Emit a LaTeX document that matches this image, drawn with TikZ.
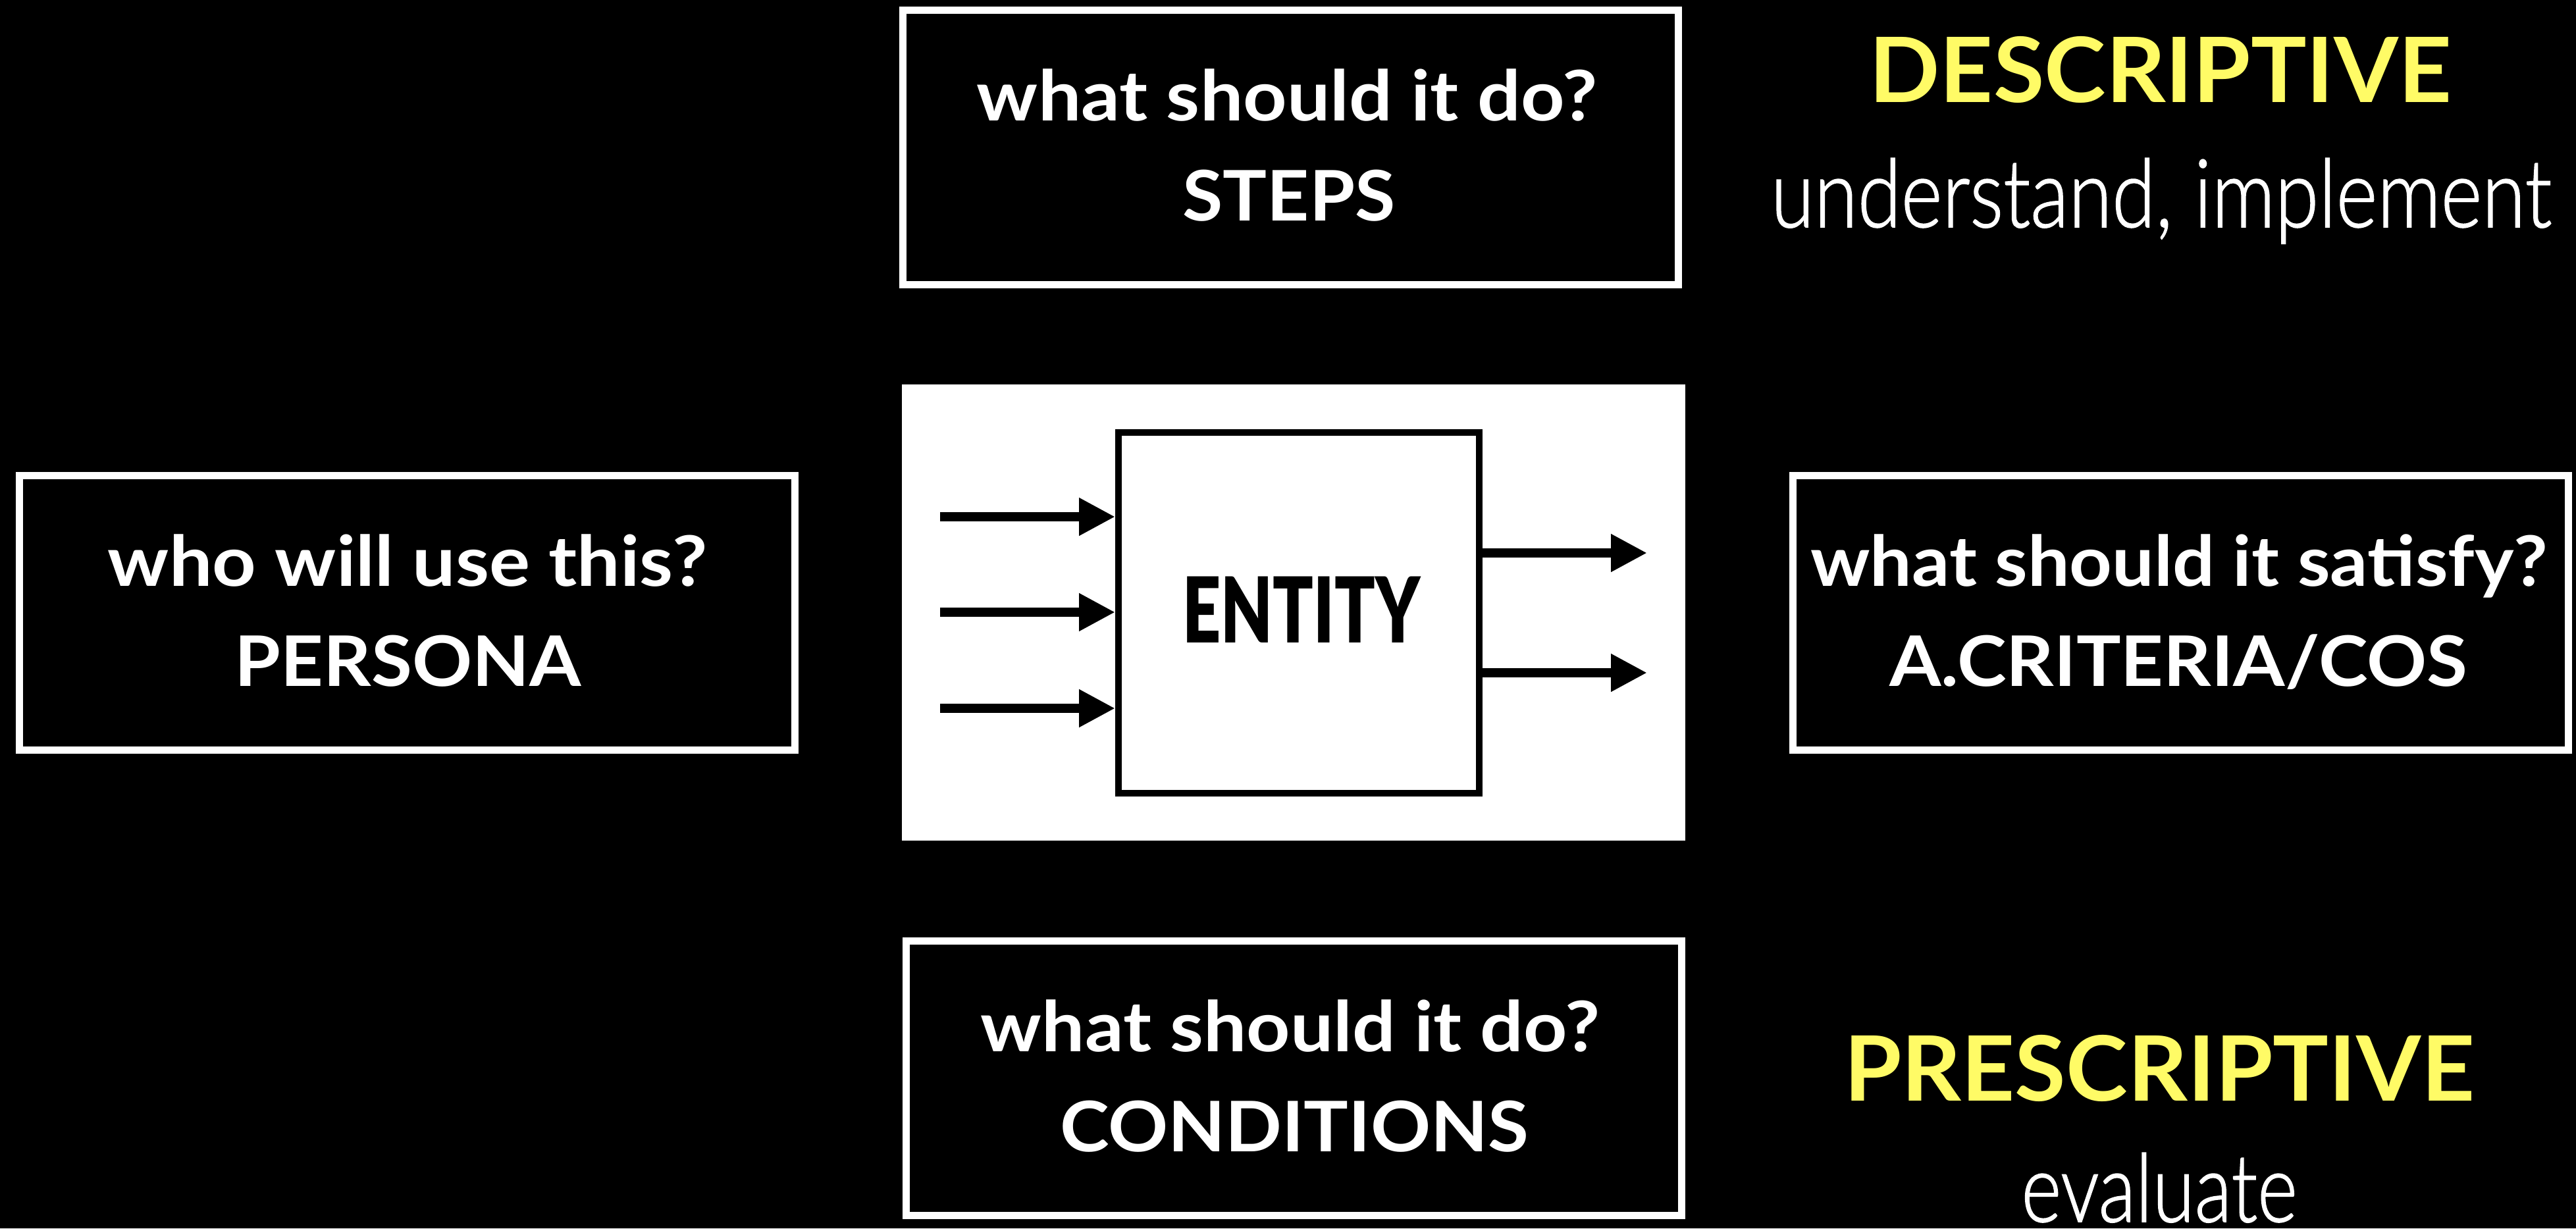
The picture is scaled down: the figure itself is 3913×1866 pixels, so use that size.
\documentclass[tikz,border=0pt]{standalone}
\usepackage{fontspec}
\usepackage{graphicx}
\setmainfont{Lato}
\newfontfamily\lightfont{Lato}[UprightFont=* Light, FakeBold=1.2]
\newfontfamily\entityfont{Lato}[UprightFont=* Black]
\usetikzlibrary{arrows.meta}

\definecolor{hiyellow}{RGB}{255,251,102}

% set a line of text to a given width, keeping its height
\newcommand\fitwidth[2]{\resizebox{#1}{\height}{#2}}

\tikzset{
  qbox/.style={draw=white, fill=black, line width=11pt, inner sep=0pt,
    minimum width=1178pt, minimum height=417pt},
  qtext/.style={text=white, anchor=base, inner sep=0pt,
    font=\fontsize{106}{120}\selectfont\bfseries},
  tagtext/.style={text=hiyellow, anchor=base, inner sep=0pt,
    font=\fontsize{137}{150}\selectfont\bfseries},
  lighttext/.style={text=white, anchor=base, inner sep=0pt,
    font=\lightfont\fontsize{144}{160}\selectfont},
  entitytext/.style={text=black, anchor=base, inner sep=0pt,
    font=\entityfont\fontsize{138}{150}\selectfont},
  flow/.style={draw=black, line width=14pt, -{Triangle[length=55pt,width=54pt]}},
}

\begin{document}
\begin{tikzpicture}[x=1pt, y=-1pt]
  \useasboundingbox (0,0) rectangle (3913,1866);
  \fill[black] (0,0) rectangle (3913,1866);

  % the four question boxes
  \node[qbox] (steps) at (1960,224) {};
  \node[qtext] (stepsq) at (1955,183) {\fitwidth{942pt}{what should it do?}};
  \node[qtext] (stepsa) at (1958,335) {\fitwidth{323pt}{STEPS}};

  \node[qbox] (persona) at (618.5,931) {};
  \node[qtext] (personaq) at (619,890.7) {\fitwidth{910pt}{who will use this?}};
  \node[qtext] (personaa) at (620,1042.7) {\fitwidth{526pt}{PERSONA}};

  \node[qbox] (criteria) at (3312.5,931) {};
  \node[qtext] (criteriaq) at (3310,890.7) {\fitwidth{1120pt}{what should it satisfy?}};
  \node[qtext] (criteriaa) at (3309,1042.7) {\fitwidth{878pt}{A.CRITERIA/COS}};

  \node[qbox] (conditions) at (1965,1637.5) {};
  \node[qtext] (conditionsq) at (1960,1597.3) {\fitwidth{940pt}{what should it do?}};
  \node[qtext] (conditionsa) at (1966,1749.3) {\fitwidth{712pt}{CONDITIONS}};

  % the entity with its inputs and outputs
  \node[fill=white, inner sep=0pt, minimum width=1190pt, minimum height=693pt] (panel) at (1965,930.5) {};
  \node[draw=black, fill=white, line width=10pt, inner sep=0pt,
        minimum width=548pt, minimum height=548pt] (entity) at (1973,931) {};
  \node[entitytext] (entitylabel) at (1977,976.5) {\fitwidth{361pt}{ENTITY}};

  \coordinate (in1) at (1428,785);
  \coordinate (in2) at (1428,930);
  \coordinate (in3) at (1428,1076);
  \coordinate (out1) at (2502,840);
  \coordinate (out2) at (2502,1022);
  \draw[flow] (in1) -- (in1 -| entity.west);
  \draw[flow] (in2) -- (in2 -| entity.west);
  \draw[flow] (in3) -- (in3 -| entity.west);
  \draw[flow] (out1 -| entity.east) -- (out1);
  \draw[flow] (out2 -| entity.east) -- (out2);

  % the two headings on the right
  \node[tagtext] (descr) at (3282,155) {\fitwidth{885pt}{DESCRIPTIVE}};
  \node[lighttext] (descrsub) at (3283,345) {\fitwidth{1186pt}{understand, implement}};
  \node[tagtext] (prescr) at (3280,1672.7) {\fitwidth{958pt}{PRESCRIPTIVE}};
  \node[lighttext] (prescrsub) at (3280,1856) {\fitwidth{419pt}{evaluate}};
\end{tikzpicture}
\end{document}
